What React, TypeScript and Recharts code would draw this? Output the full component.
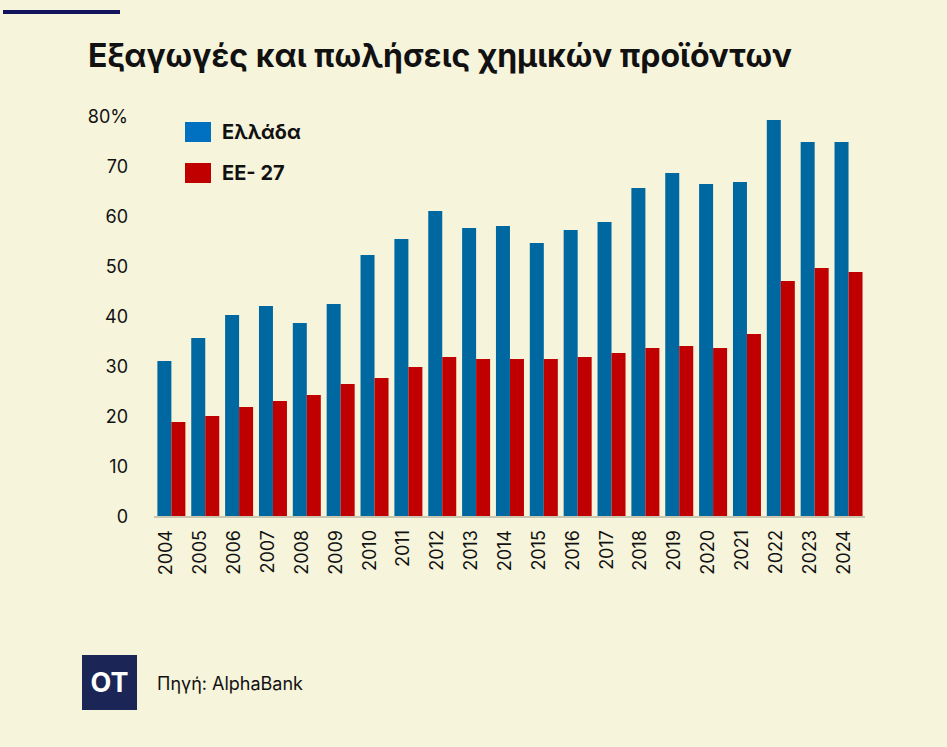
import { Bar, BarChart, XAxis, YAxis } from "recharts";

const years = [
  "2004", "2005", "2006", "2007", "2008", "2009", "2010", "2011", "2012", "2013", "2014",
  "2015", "2016", "2017", "2018", "2019", "2020", "2021", "2022", "2023", "2024",
];
const greece = [31.2, 35.8, 40.4, 42.2, 38.8, 42.6, 52.4, 55.6, 61.2, 57.8, 58.2, 54.8, 57.4, 59, 65.8, 68.8, 66.6, 67, 79.4, 75, 75];
const eu27 = [19, 20.2, 22, 23.2, 24.4, 26.6, 27.8, 30, 32, 31.6, 31.6, 31.6, 32, 32.8, 33.8, 34.2, 33.8, 36.6, 47.2, 49.8, 49];
const yTicks = [0, 10, 20, 30, 40, 50, 60, 70, 80];

const seriesNames = { greece: "Ελλάδα", eu27: "EE- 27" };
const legendColors = { greece: "#0070C0", eu27: "#C00000" };

const data = years.map((year, i) => ({ year, greece: greece[i], eu27: eu27[i] }));

const FONT = "Inter, 'Noto Sans', sans-serif";
const BG = "#F6F4DB";

const YearTick = (props: any) => {
  const { x, y, payload } = props;
  return (
    <text
      x={x - 5}
      y={y + 5}
      transform={`rotate(-90, ${x - 5}, ${y + 5})`}
      textAnchor="end"
      dominantBaseline="central"
      fontSize={18}
      fontFamily={FONT}
      fill="#111"
    >
      {payload.value}
    </text>
  );
};

// legend drawn by hand, kept out of the chart so it doesn't eat plot space
const LegendBox = () => (
  <div style={{ position: "absolute", left: 185, top: 122 }}>
    {(["greece", "eu27"] as const).map((key) => (
      <div key={key} style={{ display: "flex", alignItems: "center", height: 20, marginBottom: 21 }}>
        <div style={{ width: 26, height: 20, background: legendColors[key] }} />
        <span style={{ marginLeft: 11, fontSize: 20, fontWeight: 700, color: "#111" }}>{seriesNames[key]}</span>
      </div>
    ))}
  </div>
);

export default function App() {
  return (
    <div style={{ position: "fixed", left: 0, top: 0, width: 947, height: 747, background: BG, fontFamily: FONT }}>
      <div style={{ position: "absolute", left: 3, top: 10, width: 117, height: 4, background: "#12135C" }} />
      <div
        style={{
          position: "absolute",
          left: 88,
          top: 36,
          fontSize: 32,
          fontWeight: 700,
          color: "#111",
          whiteSpace: "nowrap",
        }}
      >
        Εξαγωγές και πωλήσεις χημικών προϊόντων
      </div>

      <BarChart
        width={947}
        height={747}
        data={data}
        margin={{ top: 117, right: 82, bottom: 0, left: 0 }}
        barCategoryGap="10%"
        barGap={0}
        style={{ position: "absolute", left: 0, top: 0 }}
      >
        <XAxis
          dataKey="year"
          interval={0}
          height={230}
          tick={<YearTick />}
          tickLine={false}
          axisLine={{ stroke: "#C9C6B2", strokeWidth: 2 }}
        />
        <YAxis
          width={154}
          domain={[0, 80]}
          ticks={yTicks}
          interval={0}
          tickSize={0}
          tickMargin={26}
          tickLine={false}
          axisLine={false}
          tickFormatter={(v: number) => (v === 80 ? "80%" : String(v))}
          tick={{ fontSize: 18, fill: "#111", fontFamily: FONT }}
        />
        <Bar dataKey="greece" name={seriesNames.greece} fill="#0068A0" isAnimationActive={false} />
        <Bar dataKey="eu27" name={seriesNames.eu27} fill="#C00000" isAnimationActive={false} />
      </BarChart>

      <LegendBox />

      <div
        style={{
          position: "absolute",
          left: 82,
          top: 655,
          width: 55,
          height: 55,
          background: "#1B2657",
          color: "#fff",
          fontSize: 27,
          fontWeight: 700,
          display: "flex",
          alignItems: "center",
          justifyContent: "center",
        }}
      >
        OT
      </div>
      <div style={{ position: "absolute", left: 157, top: 673, fontSize: 18, color: "#111" }}>Πηγή: AlphaBank</div>
    </div>
  );
}
